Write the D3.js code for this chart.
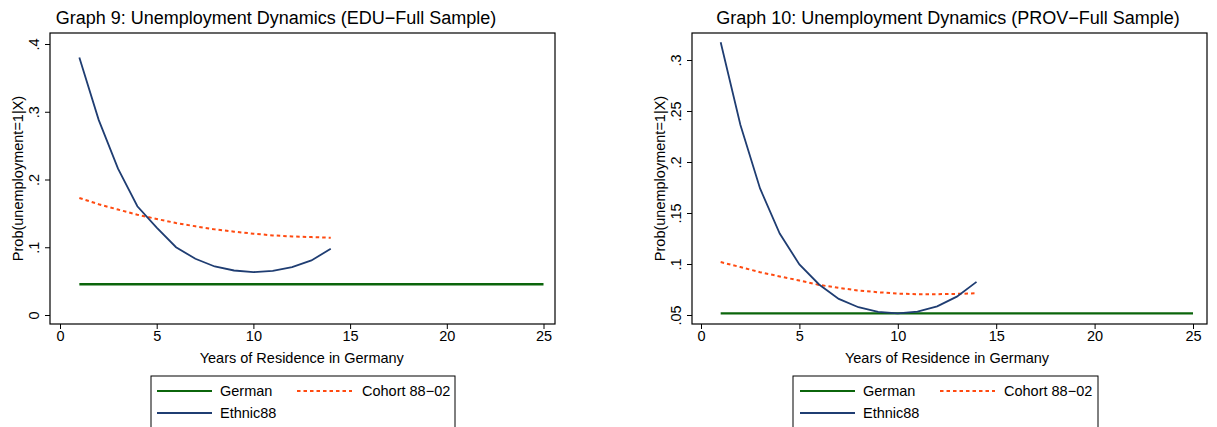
<!DOCTYPE html>
<html><head><meta charset="utf-8">
<script src="https://cdn.jsdelivr.net/npm/d3@7"></script>
<style>
html,body{margin:0;padding:0;background:#fff;}
svg text{font-family:"Liberation Sans",Arial,sans-serif;fill:#000;}
</style></head>
<body><svg id="chart" width="1217" height="427"></svg>
<script>
// ---------- data ----------
const years = [1,2,3,4,5,6,7,8,9,10,11,12,13,14];
const germanYears = [1, 25];

// Graph 9 (EDU)
const eduEthnic = [0.380,0.288,0.216,0.1605,0.129,0.100,0.083,0.0716,0.0657,0.0632,0.0652,0.0706,0.0805,0.0978];
const eduCohort = [0.1728,0.1635,0.1556,0.1481,0.1417,0.1358,0.1309,0.1264,0.1230,0.1200,0.1175,0.1160,0.1150,0.1140];
const eduGerman = [0.0454,0.0454];
const eduYTicks = [0, 0.1, 0.2, 0.3, 0.4];
const eduYLabels = ["0", ".1", ".2", ".3", ".4"];

// Graph 10 (PROV)
const provEthnic = [0.3174,0.2365,0.1741,0.1298,0.0996,0.0799,0.0658,0.0576,0.0530,0.0516,0.0533,0.0585,0.0680,0.0825];
const provCohort = [0.1019,0.0970,0.0920,0.0878,0.0838,0.0795,0.0766,0.0740,0.0723,0.0710,0.0704,0.0704,0.0707,0.0713];
const provGerman = [0.0516,0.0516];
const provYTicks = [0.05, 0.1, 0.15, 0.2, 0.25, 0.3];
const provYLabels = [".05", ".1", ".15", ".2", ".25", ".3"];

const xTicks = [0, 5, 10, 15, 20, 25];
const seriesNames = ["German", "Cohort 88\u221202", "Ethnic88"];
const titles = ["Graph 9: Unemployment Dynamics (EDU\u2212Full Sample)",
                "Graph 10: Unemployment Dynamics (PROV\u2212Full Sample)"];
const xTitle = "Years of Residence in Germany";
const yTitle = "Prob(unemployment=1|X)";

// ---------- style ----------
const colGerman = "#0b650b", colEthnic = "#1f3d72", colCohort = "#ff4a10";
const FS = "14.5px";

const svg = d3.select("#chart");

function panel(p){
  const g = svg.append("g");
  const x = d3.scaleLinear().domain([0,25]).range([p.x0, p.x25]);
  const y = d3.scaleLinear().domain([p.yv0, p.yv1]).range([p.yp0, p.yp1]);

  // title
  g.append("text").attr("x", p.titleX).attr("y", 24).attr("text-anchor","middle")
    .style("font-size","18px").text(p.title);

  // frame
  g.append("rect").attr("x", p.fl).attr("y", p.ft).attr("width", p.fr-p.fl).attr("height", p.fb-p.ft)
    .attr("fill","none").attr("stroke","#000").attr("stroke-width",1.2);

  // x axis
  const xa = g.append("g").attr("transform",`translate(0,${p.fb})`)
    .call(d3.axisBottom(x).tickValues(xTicks).tickFormat(d3.format("d")).tickSize(5).tickPadding(2));
  xa.select(".domain").remove();
  xa.selectAll("line").attr("stroke","#000");
  xa.selectAll("text").style("font-size",FS).style("font-family","Liberation Sans, Arial, sans-serif");

  // y axis
  const ya = g.append("g").attr("transform",`translate(${p.fl},0)`)
    .call(d3.axisLeft(y).tickValues(p.yTicks).tickFormat((d,i)=>p.yLabels[i]).tickSize(5).tickPadding(0));
  ya.select(".domain").remove();
  ya.selectAll("line").attr("stroke","#000");
  ya.selectAll("text").attr("x", null).attr("dy", null)
    .attr("text-anchor","middle")
    .attr("transform", d => `translate(-11,0) rotate(-90)`)
    .attr("y", 0)
    .style("font-size",FS).style("font-family","Liberation Sans, Arial, sans-serif");

  // axis titles
  g.append("text").attr("x", (p.x0+p.x25)/2).attr("y", 363).attr("text-anchor","middle")
    .style("font-size",FS).text(xTitle);
  g.append("text").attr("transform",`translate(${p.fl-27},${(p.ft+p.fb)/2}) rotate(-90)`)
    .attr("text-anchor","middle").style("font-size",FS).text(yTitle);

  const line = d3.line().x(d=>x(d[0])).y(d=>y(d[1]));
  g.append("path").datum(d3.zip(germanYears, p.german)).attr("d", line)
    .attr("fill","none").attr("stroke",colGerman).attr("stroke-width",2.4);
  g.append("path").datum(d3.zip(years, p.cohort)).attr("d", line)
    .attr("fill","none").attr("stroke",colCohort).attr("stroke-width",2).attr("stroke-dasharray","3.5,3");
  g.append("path").datum(d3.zip(years, p.ethnic)).attr("d", line)
    .attr("fill","none").attr("stroke",colEthnic).attr("stroke-width",1.8);

  // legend
  const L = p.leg;
  g.append("rect").attr("x", L.l).attr("y", 376).attr("width", L.r-L.l).attr("height", 70)
    .attr("fill","#fff").attr("stroke","#000").attr("stroke-width",1);
  const items = [
    {name: seriesNames[0], col: colGerman, dash: null, x1: L.l1, tx: L.t1, y: 391},
    {name: seriesNames[1], col: colCohort, dash: "3.5,3", x1: L.l2, tx: L.t2, y: 391},
    {name: seriesNames[2], col: colEthnic, dash: null, x1: L.l1, tx: L.t1, y: 413}
  ];
  items.forEach(it=>{
    g.append("line").attr("x1", it.x1).attr("x2", it.x1+55).attr("y1", it.y).attr("y2", it.y)
      .attr("stroke", it.col).attr("stroke-width", 2).attr("stroke-dasharray", it.dash);
    g.append("text").attr("x", it.tx).attr("y", it.y+5).style("font-size",FS).text(it.name);
  });
}

panel({title: titles[0], titleX: 276, x0: 60, x25: 543.5, fl: 50, fr: 555, ft: 33, fb: 324,
  yv0: 0, yv1: 0.4, yp0: 315, yp1: 44, yTicks: eduYTicks, yLabels: eduYLabels,
  german: eduGerman, cohort: eduCohort, ethnic: eduEthnic,
  leg: {l: 151, r: 455, l1: 157, t1: 220, l2: 297, t2: 362}});

panel({title: titles[1], titleX: 948, x0: 701, x25: 1193, fl: 692, fr: 1207, ft: 33, fb: 324,
  yv0: 0.05, yv1: 0.3, yp0: 315, yp1: 60, yTicks: provYTicks, yLabels: provYLabels,
  german: provGerman, cohort: provCohort, ethnic: provEthnic,
  leg: {l: 793, r: 1098, l1: 800, t1: 863, l2: 940, t2: 1004}});
</script></body></html>
